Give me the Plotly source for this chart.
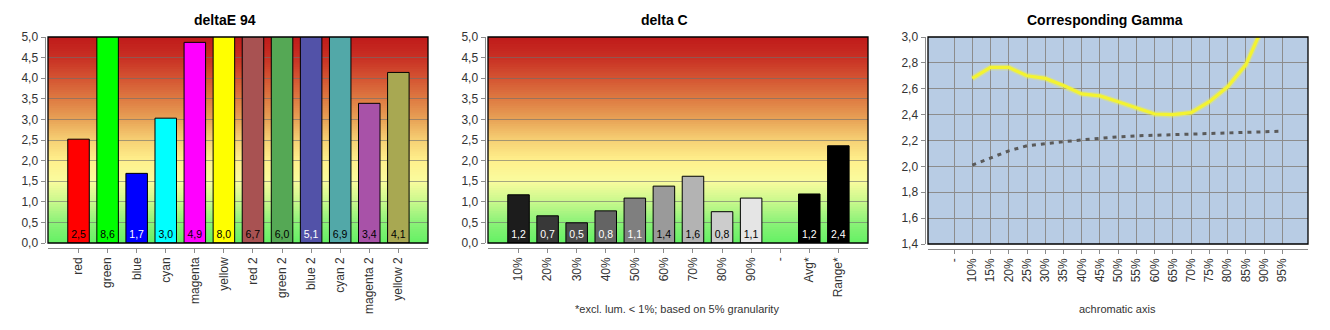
import plotly.graph_objects as go

W, H = 1330, 330

# ---------------- data ----------------
de_categories = ["red", "green", "blue", "cyan", "magenta", "yellow",
                 "red 2", "green 2", "blue 2", "cyan 2", "magenta 2", "yellow 2"]
de_values = [2.52, 8.6, 1.69, 3.03, 4.87, 8.0, 6.7, 6.0, 5.1, 6.9, 3.39, 4.14]

dc_categories = ["10%", "20%", "30%", "40%", "50%", "60%", "70%", "80%", "90%",
                 "-", "Avg*", "Range*"]
dc_values = [1.17, 0.66, 0.49, 0.78, 1.09, 1.38, 1.62, 0.76, 1.09, None, 1.19, 2.36]

gamma_categories = ["-", "10%", "15%", "20%", "25%", "30%", "35%", "40%", "45%",
                    "50%", "55%", "60%", "65%", "70%", "75%", "80%", "85%", "90%", "95%"]
gamma_measured = [None, 2.68, 2.765, 2.765, 2.70, 2.68, 2.625, 2.56, 2.545, 2.50,
                  2.455, 2.405, 2.40, 2.415, 2.50, 2.615, 2.785, 3.10, None]
gamma_reference = [None, 2.01, 2.066, 2.12, 2.159, 2.172, 2.19, 2.205, 2.218, 2.228,
                   2.236, 2.241, 2.246, 2.249, 2.256, 2.262, 2.264, 2.27, 2.272]

de_ticks = [0, 0.5, 1, 1.5, 2, 2.5, 3, 3.5, 4, 4.5, 5]
gamma_ticks = [1.4, 1.6, 1.8, 2.0, 2.2, 2.4, 2.6, 2.8, 3.0]

# ---------------- styles ----------------
de_colors = ["#ff0000", "#00ff00", "#0000ff", "#00ffff", "#ff00ff", "#ffff00",
             "#a85252", "#55a855", "#5252a8", "#52a8a8", "#a852a8", "#a8a852"]
de_text_colors = ["black", "black", "white", "black", "black", "black",
                  "black", "black", "white", "black", "black", "black"]
dc_colors = ["#1c1c1c", "#383838", "#4b4b4b", "#646464", "#7f7f7f", "#9a9a9a",
             "#b3b3b3", "#cccccc", "#e5e5e5", "#000000", "#000000", "#000000"]
dc_text_colors = ["white", "white", "white", "white", "white", "black",
                  "black", "black", "black", "white", "white", "white"]

FONT = "Liberation Sans, Arial, sans-serif"
AXIS_GREY = "#8c8c8c"
TICK_FONT = dict(family=FONT, size=12, color="#333333")


def fmt(v):
    return "" if v is None else f"{v:.1f}".replace(".", ",")


def px(xp):
    return xp / W


def py(yp):
    return 1 - yp / H


# gradient stops for the deltaE / deltaC panels (bottom -> top)
grad_stops = [
    (0.00, (100, 240, 100)),
    (0.10, (140, 242, 120)),
    (0.20, (200, 248, 140)),
    (0.30, (250, 252, 158)),
    (0.40, (255, 240, 140)),
    (0.50, (246, 208, 116)),
    (0.60, (232, 162, 86)),
    (0.70, (222, 122, 66)),
    (0.80, (212, 84, 50)),
    (0.90, (200, 48, 36)),
    (1.00, (192, 26, 26)),
]


def grad_color(f):
    for (f0, c0), (f1, c1) in zip(grad_stops[:-1], grad_stops[1:]):
        if f0 <= f <= f1:
            t = (f - f0) / (f1 - f0)
            c = [round(a + (b - a) * t) for a, b in zip(c0, c1)]
            return f"rgb({c[0]},{c[1]},{c[2]})"
    return "rgb(192,26,26)"


fig = go.Figure()

# ---------------- traces ----------------
fig.add_trace(go.Bar(
    x=de_categories, y=de_values, xaxis="x", yaxis="y",
    marker=dict(color=de_colors, line=dict(color="black", width=1)),
    width=0.74,
    text=[fmt(v) for v in de_values], textposition="inside",
    insidetextanchor="start", textangle=0, constraintext="none",
    textfont=dict(family=FONT, size=10.5, color=de_text_colors),
    showlegend=False, hoverinfo="skip",
))

fig.add_trace(go.Bar(
    x=dc_categories, y=dc_values, xaxis="x2", yaxis="y2",
    marker=dict(color=dc_colors, line=dict(color="black", width=1)),
    width=0.74,
    text=[fmt(v) for v in dc_values], textposition="inside",
    insidetextanchor="start", textangle=0, constraintext="none",
    textfont=dict(family=FONT, size=10.5, color=dc_text_colors),
    showlegend=False, hoverinfo="skip",
))

fig.add_trace(go.Scatter(
    x=gamma_categories, y=gamma_reference, xaxis="x3", yaxis="y3",
    mode="lines", line=dict(color="#5a5a5a", width=3, dash="4px,5px"),
    showlegend=False, hoverinfo="skip",
))
fig.add_trace(go.Scatter(
    x=gamma_categories, y=gamma_measured, xaxis="x3", yaxis="y3",
    mode="lines", line=dict(color="rgba(240,240,70,0.35)", width=6),
    showlegend=False, hoverinfo="skip",
))
fig.add_trace(go.Scatter(
    x=gamma_categories, y=gamma_measured, xaxis="x3", yaxis="y3",
    mode="lines", line=dict(color="#f3f332", width=3.2),
    showlegend=False, hoverinfo="skip",
))

# ---------------- axes ----------------
panels = [
    # (suffix, left px, right px, top px, bottom px, categories, range)
    ("", 48, 428, 37, 243, de_categories, [-1.05, 12.02]),
    ("2", 488, 868, 37, 243, dc_categories, [-1.05, 12.02]),
    ("3", 928, 1308, 37, 244, gamma_categories, [-1.43, 19.41]),
]

for suf, l, r, t, b, cats, xr in panels:
    is_gamma = suf == "3"
    fig.layout["xaxis" + suf] = dict(
        domain=[px(l), px(r)], anchor="free", position=py(b + 4.5),
        type="category", categoryorder="array", categoryarray=cats,
        range=xr, tickangle=-90, ticks="outside", ticklen=4, tickwidth=1,
        tickcolor=AXIS_GREY, showline=True, linecolor=AXIS_GREY, linewidth=1,
        showgrid=is_gamma, gridcolor=AXIS_GREY, gridwidth=1,
        tickfont=TICK_FONT, automargin=False, fixedrange=True,
    )
    if is_gamma:
        yrange, ticks = [1.4, 3.0], gamma_ticks
    else:
        yrange, ticks = [0, 5], de_ticks
    fig.layout["yaxis" + suf] = dict(
        domain=[py(b), py(t)], anchor="free", position=px(l - 3.5),
        range=yrange, tickmode="array", tickvals=ticks, tickformat=".1f",
        ticks="outside", ticklen=4, tickwidth=1, tickcolor=AXIS_GREY,
        showline=True, linecolor=AXIS_GREY, linewidth=1,
        showgrid=True,
        gridcolor=AXIS_GREY if is_gamma else "rgba(110,110,110,0.6)",
        gridwidth=1, zeroline=False,
        tickfont=TICK_FONT, automargin=False, fixedrange=True,
    )

# ---------------- backgrounds and frames ----------------
shapes = []
N = 90
for xr_name, yr_name in [("x", "y"), ("x2", "y2")]:
    for i in range(N):
        f = (i + 0.5) / N
        shapes.append(dict(
            type="rect", xref=f"{xr_name} domain", yref=f"{yr_name} domain",
            x0=0, x1=1, y0=i / N, y1=min(1, (i + 1) / N + 0.004),
            fillcolor=grad_color(f), line=dict(width=0), layer="below",
        ))
shapes.append(dict(
    type="rect", xref="x3 domain", yref="y3 domain", x0=0, x1=1, y0=0, y1=1,
    fillcolor="#b8cce4", line=dict(width=0), layer="below",
))
for xr_name, yr_name in [("x", "y"), ("x2", "y2"), ("x3", "y3")]:
    shapes.append(dict(
        type="rect", xref=f"{xr_name} domain", yref=f"{yr_name} domain",
        x0=0, x1=1, y0=0, y1=1, fillcolor="rgba(0,0,0,0)",
        line=dict(color="black", width=1.3), layer="above",
    ))

# ---------------- titles / notes ----------------
annotations = [
    dict(text="deltaE 94", x=px(225), y=py(20)),
    dict(text="delta C", x=px(664.5), y=py(20)),
    dict(text="Corresponding Gamma", x=px(1105), y=py(20)),
]
annotations = [dict(a, xref="paper", yref="paper", showarrow=False,
                    xanchor="center", yanchor="middle",
                    font=dict(family=FONT, size=14, color="black", weight="bold"))
               for a in annotations]
annotations += [
    dict(text="*excl. lum. < 1%; based on 5% granularity", x=px(677), y=py(309),
         xref="paper", yref="paper", showarrow=False, xanchor="center",
         yanchor="middle", font=dict(family=FONT, size=11, color="#333333")),
    dict(text="achromatic axis", x=px(1117), y=py(309),
         xref="paper", yref="paper", showarrow=False, xanchor="center",
         yanchor="middle", font=dict(family=FONT, size=11, color="#333333")),
]

fig.update_layout(
    width=W, height=H, autosize=False,
    margin=dict(l=0, r=0, t=0, b=0, pad=0),
    paper_bgcolor="white", plot_bgcolor="rgba(0,0,0,0)",
    separators=", ",
    barmode="group", bargap=0.26,
    shapes=shapes, annotations=annotations,
    font=dict(family=FONT, size=12, color="#333333"),
    showlegend=False,
)

fig.write_html("out.html")
